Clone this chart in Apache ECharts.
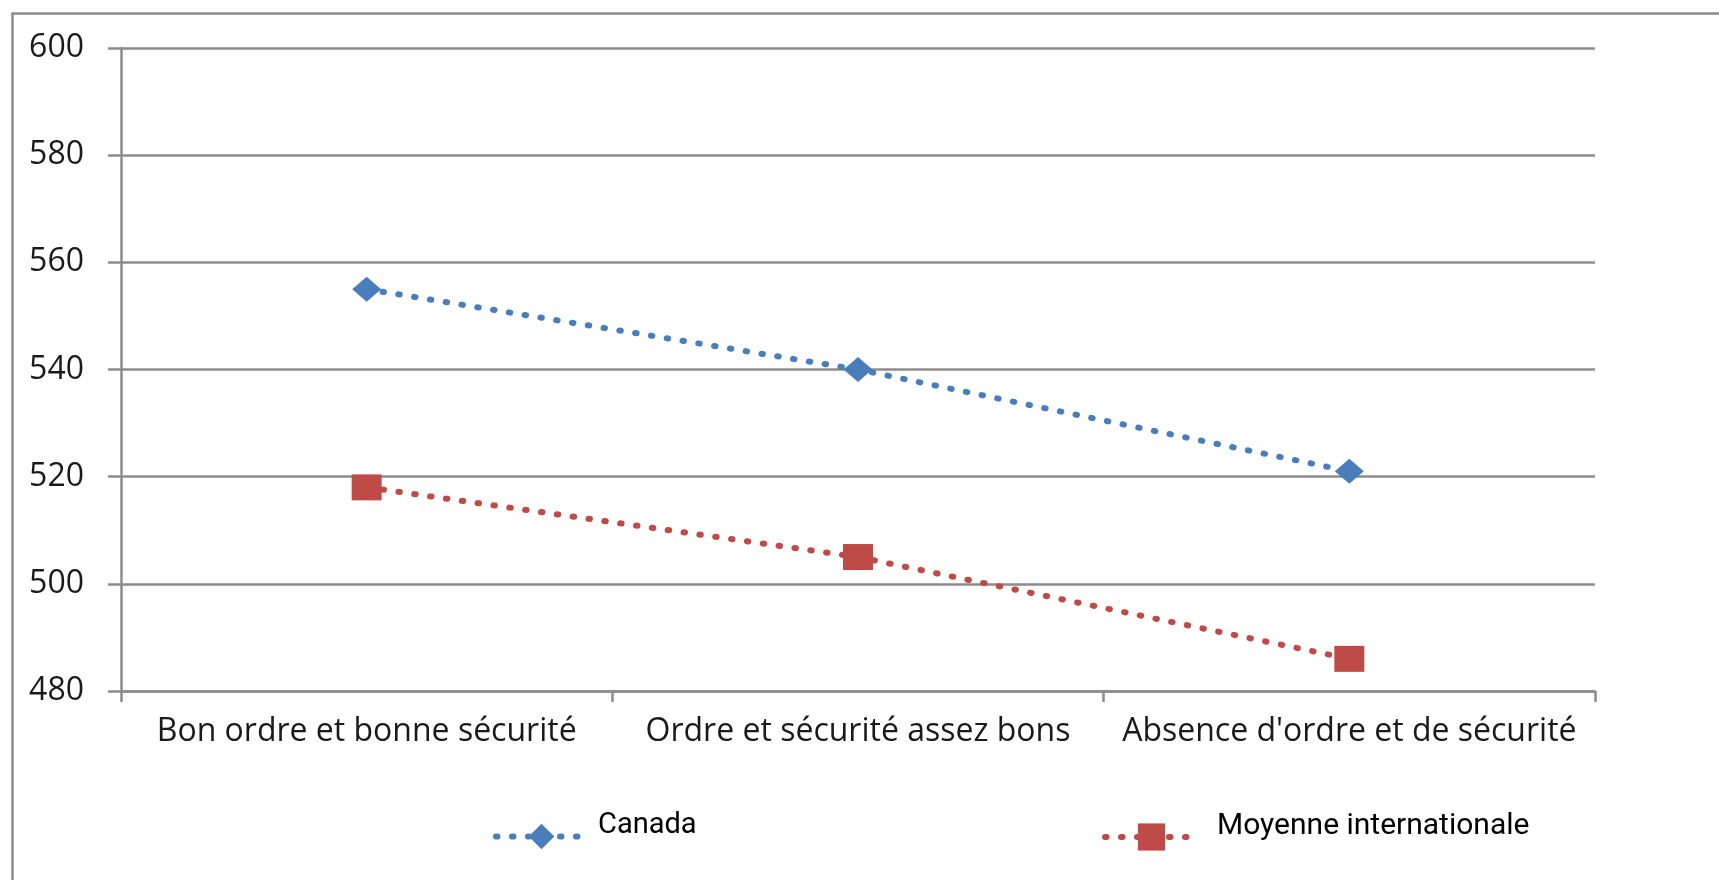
<!DOCTYPE html>
<html>
<head>
<meta charset="utf-8">
<script src="https://cdn.jsdelivr.net/npm/echarts@6/dist/echarts.min.js"></script>
<style>
html,body{margin:0;padding:0;background:#fff;}
#chart{width:1719px;height:880px;}
</style>
</head>
<body>
<div id="chart"></div>
<script>
const categories = ['Bon ordre et bonne sécurité', 'Ordre et sécurité assez bons', "Absence d'ordre et de sécurité"];
const canada = [555, 540, 521];
const moyenne = [518, 505, 486];
const seriesNames = ['Canada', 'Moyenne internationale'];
const yMin = 480, yMax = 600, yStep = 20;

const blue = '#4A7EBB';
const red = '#BE4B48';
const gray = '#8C8C8C';
const textColor = '#1A1A1A';

const chart = echarts.init(document.getElementById('chart'), null, {renderer: 'canvas'});
const dotted = {type: [1.5, 14.5], cap: 'round', width: 6};

function legendText(size, padLeft) {
  return {
    formatter: name => '{t|' + name + '}\n{s| }',
    textStyle: {
      rich: {
        t: {color: '#000', fontFamily: 'Roboto', fontSize: size, lineHeight: 34, padding: [0, 0, 0, padLeft]},
        s: {fontSize: 10, lineHeight: 22, height: 22}
      }
    }
  };
}

chart.setOption({
  animation: false,
  backgroundColor: '#fff',
  graphic: [{
    type: 'rect', left: 10, top: 11, silent: true,
    shape: {width: 3000, height: 3000},
    style: {fill: 'none', stroke: gray, lineWidth: 2.5}
  }],
  grid: {left: 121, right: 124, top: 48, bottom: 189, containLabel: false},
  xAxis: {
    type: 'category',
    data: categories,
    boundaryGap: true,
    axisLine: {lineStyle: {color: gray, width: 2.5}},
    axisTick: {show: true, length: 11, lineStyle: {color: gray, width: 2.5}},
    axisLabel: {color: textColor, fontFamily: 'Open Sans', fontSize: 32, margin: 25, interval: 0}
  },
  yAxis: {
    type: 'value',
    min: yMin, max: yMax, interval: yStep,
    axisLine: {show: true, lineStyle: {color: gray, width: 2.5}},
    axisTick: {show: true, length: 13, lineStyle: {color: gray, width: 2.5}},
    splitLine: {show: true, lineStyle: {color: gray, width: 2.5}},
    axisLabel: {color: textColor, fontFamily: 'Open Sans', fontSize: 32, margin: 37}
  },
  legend: [Object.assign({
    data: [seriesNames[0]],
    left: 488, top: 806,
    itemWidth: 91, itemHeight: 32,
    lineStyle: {width: 6, type: [1.5, 14.5], cap: 'round'}
  }, legendText(29, 6)), Object.assign({
    data: [seriesNames[1]],
    left: 1097, top: 806,
    itemWidth: 93, itemHeight: 34,
    lineStyle: {width: 6, type: [1.5, 14.5], cap: 'round'}
  }, legendText(30, 14))],
  series: [{
    name: seriesNames[0],
    type: 'line',
    data: canada,
    symbol: 'diamond',
    symbolSize: [29, 25],
    itemStyle: {color: blue},
    lineStyle: Object.assign({color: blue}, dotted)
  }, {
    name: seriesNames[1],
    type: 'line',
    data: moyenne,
    symbol: 'rect',
    symbolSize: [30, 26],
    itemStyle: {color: red},
    lineStyle: Object.assign({color: red}, dotted)
  }]
});
</script>
</body>
</html>
